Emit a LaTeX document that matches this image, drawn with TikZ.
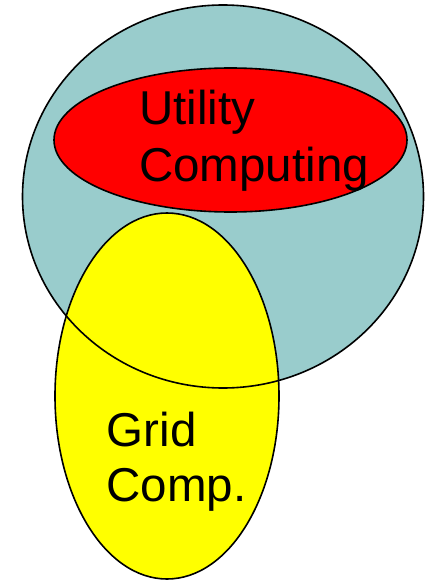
\documentclass[tikz,border=0pt]{standalone}
\usepackage{fontspec}
\setmainfont{Liberation Sans}
\definecolor{tealc}{RGB}{153,204,204}
\definecolor{redc}{RGB}{255,0,0}
\definecolor{yelc}{RGB}{255,255,0}
\begin{document}
\begin{tikzpicture}[x=1pt,y=-1pt,
  outl/.style={draw=black,line width=1.6pt},
  lbl/.style={anchor=base west,inner sep=0pt,font=\fontsize{47.5}{57}\selectfont}]
\useasboundingbox (0,0) rectangle (427,580);
% big teal set
\fill[tealc] (223,196.5) ellipse [x radius=200.5, y radius=191.5];
% utility computing
\fill[redc] (230.5,140) ellipse [x radius=176.5, y radius=72];
\draw[outl] (230.5,140) ellipse [x radius=176.5, y radius=72];
% grid computing
\fill[yelc] (167,396) ellipse [x radius=112, y radius=183];
\draw[outl] (167,396) ellipse [x radius=112, y radius=183];
% teal outline on top
\draw[outl] (223,196.5) ellipse [x radius=200.5, y radius=191.5];
% labels
\node[lbl] (u1) at (139,125) {Utility};
\node[lbl] (u2) at (139,182) {Computing};
\node[lbl] (g1) at (106.5,446) {Grid};
\node[lbl] (g2) at (106.5,501) {Comp.};
\end{tikzpicture}
\end{document}
